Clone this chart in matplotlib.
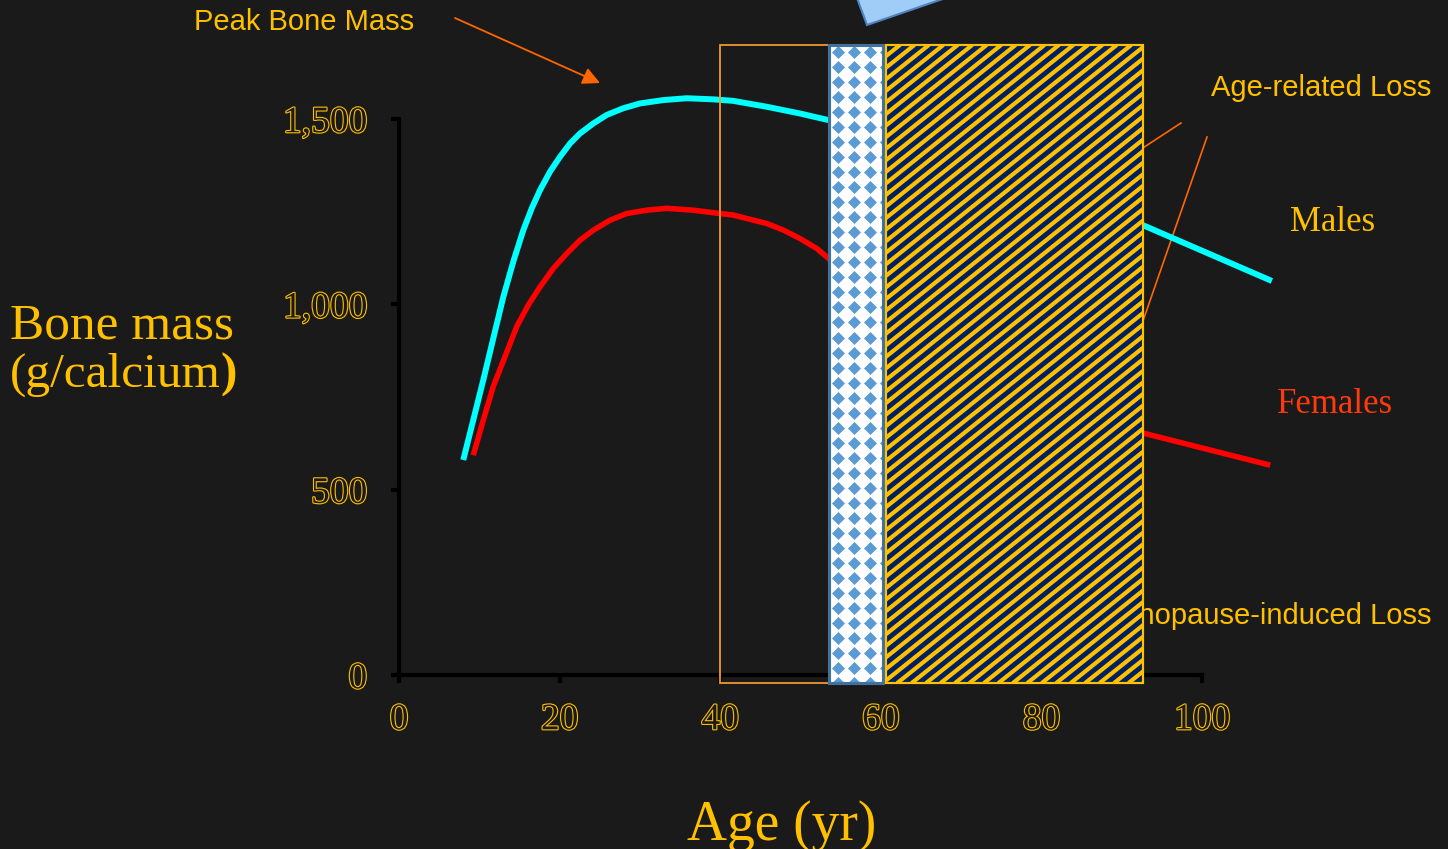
import numpy as np
import matplotlib
matplotlib.use('Agg')
import matplotlib.pyplot as plt
import matplotlib.patheffects as pe
from matplotlib.patches import Rectangle, Polygon
from matplotlib.collections import LineCollection

# curves (age in years, bone mass in g calcium)
male_age = [8.0, 9.25, 10.5, 11.74, 12.99, 14.23, 15.48, 16.53, 17.56, 18.81, 20.05, 21.3,
            22.54, 24.2, 25.87, 27.93, 30.01, 32.91, 35.83, 39.14, 41.6, 45.8, 49.9, 53.5,
            60.4, 92.6, 108.7]
male_mass = [580, 688, 796, 908, 1020, 1115, 1200, 1259, 1308, 1358, 1398, 1434,
             1461, 1488, 1511, 1529, 1542, 1551, 1556, 1553, 1549, 1533, 1515, 1497,
             1457, 1214, 1063]
female_age = [9.25, 10.5, 11.74, 13.2, 14.66, 16.1, 17.56, 19.22, 20.88, 22.54, 24.2, 26.28,
              28.36, 30.85, 33.34, 36.65, 39.97, 41.6, 45.8, 47.9, 49.9, 52.0, 53.5,
              60.4, 92.6, 108.5]
female_mass = [593, 688, 778, 859, 940, 998, 1047, 1097, 1137, 1173, 1200, 1227,
               1245, 1254, 1259, 1254, 1245, 1241, 1218, 1200, 1178, 1151, 1124,
               939, 653, 566]

age_ticks = [0, 20, 40, 60, 80, 100]
mass_ticks = [0, 500, 1000, 1500]
mass_labels = ['0', '500', '1,000', '1,500']

# shaded bands (age from, age to)
band_open = (40, 60)
band_dots = (53.5, 60.3)
band_hatch = (60.6, 92.65)
band_low, band_high = -22, 1700

bg = '#1a1a1a'
gold = '#ffc000'
orange = '#ff6600'
W, H = 1448, 849


def fx(px):
    return px / W


def fy(py):
    return 1 - py / H


fig = plt.figure(figsize=(14.48, 8.49), dpi=100, facecolor=bg)
ax = fig.add_axes([fx(399), fy(675), (1202 - 399) / W, (675 - 119) / H])
ax.set_facecolor('none')
ax.set_xlim(0, 100)
ax.set_ylim(0, 1500)
for s in ['top', 'right']:
    ax.spines[s].set_visible(False)
for s in ['left', 'bottom']:
    ax.spines[s].set_color('black')
    ax.spines[s].set_linewidth(3)
ax.tick_params(direction='out', length=6, width=3, color='black')
ax.tick_params(axis='x', pad=14)
ax.tick_params(axis='y', pad=17)

ax.set_xticks(age_ticks)
ax.set_xticklabels([str(a) for a in age_ticks])
ax.set_yticks(mass_ticks)
ax.set_yticklabels(mass_labels)
outline = [pe.withStroke(linewidth=1.6, foreground=gold)]
for lbl in ax.get_xticklabels() + ax.get_yticklabels():
    lbl.set_fontfamily('Liberation Serif')
    lbl.set_fontsize(27)
    lbl.set_color(bg)
    lbl.set_path_effects(outline)

# curves
ax.plot(male_age, male_mass, color='#00ffff', lw=4.3, clip_on=False, zorder=3,
        solid_capstyle='butt', solid_joinstyle='round')
ax.plot(female_age, female_mass, color='#ff0000', lw=4.0, clip_on=False, zorder=3,
        solid_capstyle='butt', solid_joinstyle='round')

# open orange box
ax.add_patch(Rectangle((band_open[0], band_low), band_open[1] - band_open[0], band_high - band_low,
                       fill=False, ec='#f39530', lw=1.3, clip_on=False, zorder=4))

# dotted band
dots_rect = Rectangle((band_dots[0], band_low), band_dots[1] - band_dots[0], band_high - band_low,
                      fc='white', ec='#41719c', lw=2.2, clip_on=False, zorder=5)
ax.add_patch(dots_rect)
gx, gy = np.meshgrid(np.arange(54.7, 61.0, 2.0), np.arange(1680, band_low - 40, -40.5))
sc = ax.scatter(gx.ravel(), gy.ravel(), marker='D', s=44, color='#5b9bd5', lw=0, zorder=5.1)
sc.set_clip_path(dots_rect)
ax.add_patch(Rectangle((band_dots[0], band_low), band_dots[1] - band_dots[0], band_high - band_low,
                       fill=False, ec='#41719c', lw=2.2, clip_on=False, zorder=5.2))

# striped band
hatch_rect = Rectangle((band_hatch[0], band_low), band_hatch[1] - band_hatch[0], band_high - band_low,
                       fc='#002060', ec=gold, lw=1.5, clip_on=False, zorder=5)
ax.add_patch(hatch_rect)
slope = 0.8 * (8.03 / 0.3707)
run = (band_high - band_low) / slope
segs = [[(x0, band_low), (x0 + run, band_high)]
        for x0 in np.arange(band_hatch[0] - run, band_hatch[1] + 2, 1.8)]
lc = LineCollection(segs, colors=gold, linewidths=3.0, zorder=5.1)
ax.add_collection(lc)
lc.set_clip_path(hatch_rect)
ax.add_patch(Rectangle((band_hatch[0], band_low), band_hatch[1] - band_hatch[0], band_high - band_low,
                       fill=False, ec=gold, lw=1.5, clip_on=False, zorder=5.2))

# pointer lines and text that sit behind the bands
ax.plot([fx(1100), fx(1181)], [fy(176), fy(123)], transform=fig.transFigure,
        color=orange, lw=1.2, zorder=1, clip_on=False)
ax.plot([fx(1120), fx(1207)], [fy(387), fy(137)], transform=fig.transFigure,
        color=orange, lw=1.2, zorder=1, clip_on=False)
ax.text(fx(1431), fy(616), 'Menopause-induced Loss', transform=fig.transFigure, ha='right',
        va='center', fontsize=21, family='Liberation Sans', color=gold, zorder=1, clip_on=False)

# peak bone mass arrow
ax.annotate('', xy=(fx(600), fy(83)), xytext=(fx(455), fy(18)), xycoords='figure fraction',
            textcoords='figure fraction', annotation_clip=False,
            arrowprops=dict(arrowstyle='-|>', color=orange, lw=1.3, mutation_scale=26,
                            shrinkA=0, shrinkB=0))

# blue shape poking in at the top
fig.patches.append(Polygon([(fx(854), fy(-10)), (fx(867), fy(25)), (fx(969), fy(-10))],
                           closed=True, fc='#a0cdf8', ec='#4f81bd', lw=1.5,
                           transform=fig.transFigure, figure=fig))

fig.text(fx(194), fy(22), 'Peak Bone Mass', va='center', fontsize=21, family='Liberation Sans', color=gold)
fig.text(fx(1211), fy(88), 'Age-related Loss', va='center', fontsize=21, family='Liberation Sans', color=gold)
fig.text(fx(1290), fy(222), 'Males', va='center', fontsize=25, family='Liberation Serif', color=gold)
fig.text(fx(1277), fy(404), 'Females', va='center', fontsize=25, family='Liberation Serif', color='#ff3a0a')

fig.text(fx(10), fy(326), 'Bone mass', va='center', fontsize=37, family='Liberation Serif', color=gold)
t = fig.text(fx(10), fy(375), '(g/calcium', va='center', fontsize=35.5, family='Liberation Serif', color=gold)
bb = t.get_window_extent(renderer=fig.canvas.get_renderer())
fig.text(bb.x1 / W, fy(375), ')', va='center', fontsize=35.5, family='Liberation Serif',
         weight='bold', color=gold)
fig.text(fx(782), fy(840), 'Age (yr)', ha='center', va='baseline', fontsize=40,
         family='Liberation Serif', color=gold)

fig.savefig('out.png', dpi=100, facecolor=bg)
